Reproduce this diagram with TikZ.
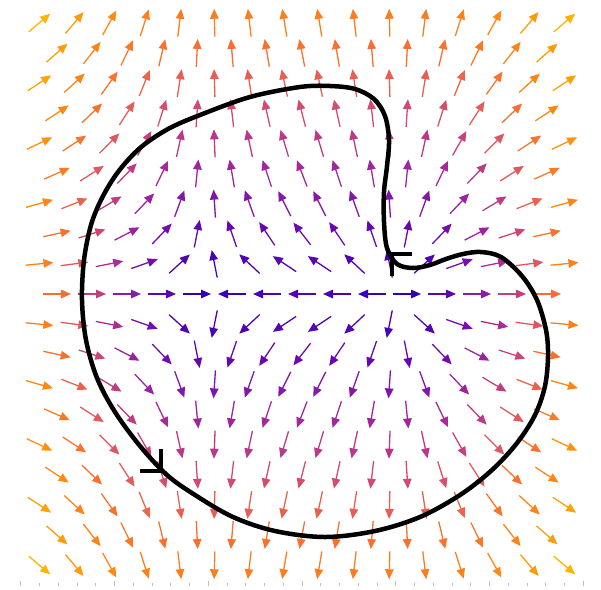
\documentclass[tikz,border=0pt]{standalone}
\usepackage{xcolor}
\usepackage{tikz}
\usetikzlibrary{arrows.meta}
\definecolor{ramp0}{RGB}{36,0,196}
\definecolor{ramp1}{RGB}{74,4,180}
\definecolor{ramp2}{RGB}{106,8,176}
\definecolor{ramp3}{RGB}{140,28,168}
\definecolor{ramp4}{RGB}{176,46,146}
\definecolor{ramp5}{RGB}{204,68,120}
\definecolor{ramp6}{RGB}{228,92,88}
\definecolor{ramp7}{RGB}{248,112,48}
\definecolor{ramp8}{RGB}{255,140,16}
\definecolor{ramp9}{RGB}{255,176,0}
\definecolor{ramp10}{RGB}{255,200,0}
\definecolor{tickgray}{RGB}{190,190,190}
\tikzset{
  fieldarrow/.style={line width=1.3pt,-{Triangle[length=10pt,width=8.5pt]}},
  loopcurve/.style={line width=4.5pt,draw=black},
  orient/.style={line width=4.5pt,draw=black,line cap=butt,line join=miter},
  axistick/.style={draw=tickgray,line width=0.8pt},
}
\begin{document}
\begin{tikzpicture}[x=1pt,y=-1pt]
\useasboundingbox (0,0) rectangle (601,589);
% field (x^2-1, 2y), staggered grid, 1 unit = 93.75px
\foreach \k in {-9,...,9}{
  \pgfmathsetmacro\yy{0.3215*\k}
  \pgfmathtruncatemacro\rowodd{mod(abs(\k),2)}
  \ifnum\rowodd=1 \def\jlist{-8,...,7}\def\joff{0.5}\else \def\jlist{-7,...,7}\def\joff{0}\fi
  \foreach \j in \jlist{
    \pgfmathsetmacro\xx{0.37333*(\j+\joff)}
    \pgfmathsetmacro\pp{\xx*\xx-1}
    \pgfmathsetmacro\qq{2*\yy}
    \pgfmathsetmacro\ang{atan2(\qq,\pp)}
    \pgfmathsetmacro\mag{sqrt(\pp*\pp+5.29*\yy*\yy)}
    \pgfmathsetmacro\tval{\mag<6 ? \mag/8.5 : min(0.706+0.06*(\mag-6),0.99)}
    \pgfmathtruncatemacro\rlo{floor(10*\tval)}
    \pgfmathtruncatemacro\rhi{\rlo+1}
    \pgfmathtruncatemacro\pct{round(100*(10*\tval-\rlo))}
    \colorlet{arrcol}{ramp\rhi!\pct!ramp\rlo}
    \draw[fieldarrow,arrcol,shift={(302+93.75*\xx,294-93.75*\yy)},rotate=\ang] (-14,0) -- (14,0);
  }
}
% axis ticks
\foreach \v in {-15,...,15}
  \draw[axistick] (302+18.75*\v,583) -- (302+18.75*\v,586);
\foreach \v in {-3,...,3}
  \draw[axistick] (302+93.75*\v,581) -- (302+93.75*\v,586);
% closed loop
\draw[loopcurve] plot[smooth cycle,tension=0.55] coordinates {
  (200,115) (250,97) (300,87) (330,86) (355,89) (374,99) (385,116)
  (389,140) (387,166) (384,192) (384,222) (387,248) (397,264)
  (413,268) (430,265) (446,259) (463,254) (481,252) (501,257)
  (522,276) (537,300) (546,330) (548,356) (545,386) (535,415)
  (517,443) (492,470) (460,495) (420,517) (375,531) (325,537)
  (275,531) (233,517) (195,495) (167,475) (140,446) (115,412)
  (97,378) (86,340) (82,300) (84,260) (91,225) (102,198)
  (118,172) (140,148) (168,129)};
% orientation marks
\coordinate (tipA) at (392,254);
\coordinate (tipB) at (161,471);
\draw[orient] ([xshift=20pt]tipA) -- (tipA) -- ([yshift=-22pt]tipA);
\draw[orient] ([yshift=22pt]tipB) -- (tipB) -- ([xshift=-21pt]tipB);
\end{tikzpicture}
\end{document}
